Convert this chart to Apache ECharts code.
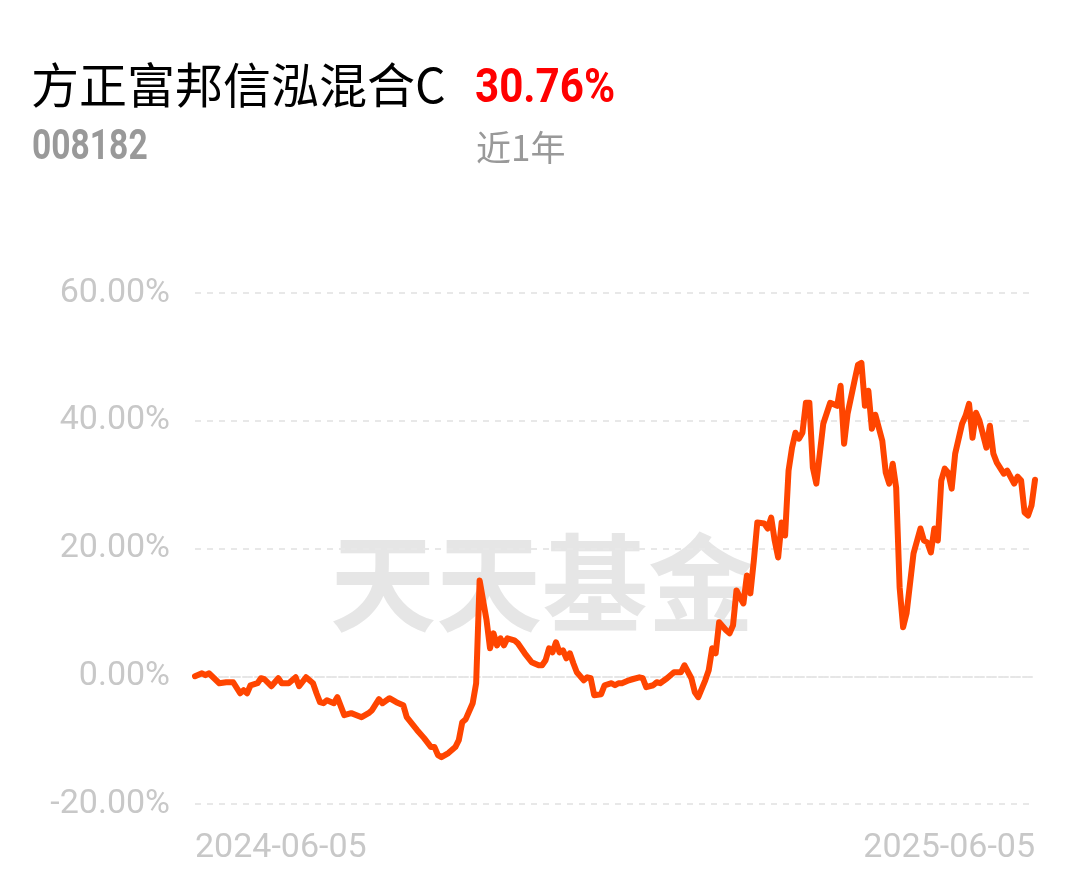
<!DOCTYPE html>
<html>
<head>
<meta charset="utf-8">
<script src="https://cdn.jsdelivr.net/npm/echarts@6/dist/echarts.min.js"></script>
<style>
html,body{margin:0;padding:0;background:#fff;}
#c{width:1080px;height:881px;}
</style>
</head>
<body>
<div id="c"></div>
<script>
// Trading-day index (0 = 2024-06-05, 242 = 2025-06-05) and cumulative return (%)
var days = [0,2,3,4,7,9,11,13,14,15,16,18,19,20,22,24,25,27,29,30,32,34,35,36,37,38,40,41,43,45,48,50,51,53,54,56,58,60,61,64,66,68,69,70,71,73,75,76,77,78,80,81,82,84,85,86,87,88,89,90,92,93,95,97,99,100,101,102,103,104,105,106,107,108,109,110,112,113,114,115,117,118,120,121,122,123,125,126,128,129,130,132,133,134,136,138,140,141,143,144,145,147,148,149,150,151,153,154,155,156,157,158,159,160,161,162,164,165,166,167,168,169,170,171,172,173,174,175,176,177,178,179,181,183,185,186,187,188,190,191,192,193,194,195,196,198,199,200,201,202,203,204,205,207,209,210,211,212,213,214,215,216,217,218,219,221,222,223,224,225,226,228,229,230,231,233,234,236,237,238,239,240,241,242];
var values = [0,0.47,0.16,0.47,-1.09,-0.94,-0.94,-2.66,-2.19,-2.66,-1.41,-1.09,-0.31,-0.47,-1.56,-0.31,-1.09,-1.09,-0.16,-1.56,-0.16,-1.09,-2.66,-4.06,-4.22,-3.75,-4.22,-3.28,-6.09,-5.78,-6.41,-5.78,-5.31,-3.59,-4.22,-3.44,-4.06,-4.53,-6.41,-8.44,-9.69,-11.09,-11.09,-12.34,-12.66,-12.03,-11.09,-10.0,-7.19,-6.72,-4.22,-1.09,15.0,8.75,4.38,6.72,4.84,5.94,4.84,5.94,5.63,5.16,3.59,2.19,1.72,1.72,2.5,4.38,3.75,5.31,3.75,4.06,2.81,3.59,2.03,0.63,-0.63,-0.16,-0.31,-2.97,-2.81,-1.41,-1.09,-1.41,-1.09,-1.09,-0.63,-0.47,-0.16,-0.31,-1.72,-1.41,-0.94,-1.09,-0.31,0.63,0.63,1.72,-0.31,-2.5,-3.28,-0.63,0.94,4.38,3.59,8.44,7.19,6.72,7.97,13.44,12.34,11.41,15.78,12.97,18.13,24.06,23.91,23.13,24.84,21.25,18.59,24.06,22.03,32.19,35.78,38.13,37.19,38.13,42.81,42.81,32.66,30.16,39.53,42.81,42.34,45.47,36.41,41.09,46.25,48.75,49.06,42.34,44.69,38.75,40.94,36.88,31.88,30.16,33.28,29.53,13.91,7.66,9.84,19.22,23.13,21.25,20.94,19.38,23.13,21.25,30.63,32.5,31.88,29.38,34.84,39.53,40.78,42.66,37.34,41.25,40.0,35.78,39.22,34.84,33.44,31.72,32.19,30.16,31.25,30.63,25.63,25.16,26.72,30.76];
var xTickLabels = ['2024-06-05','2025-06-05'];

var fundName = '方正富邦信泓混合C';
var fundCode = '008182';
var periodReturn = '30.76%';
var periodName = '近1年';

var seriesData = days.map(function(d, i){ return [d, values[i]]; });

var chart = echarts.init(document.getElementById('c'), null, {renderer:'canvas'});
var option = {
  backgroundColor: '#ffffff',
  animation: false,
  graphic: [
    {type:'text', x:31, y:61, z:10, style:{text:fundName, font:'normal 48px "Noto Sans CJK SC"', fill:'#000', textVerticalAlign:'top'}},
    {type:'text', x:32, y:127, z:10, scaleX:0.8, style:{text:fundCode, font:'bold 42px Roboto', fill:'#999', textVerticalAlign:'top'}},
    {type:'text', x:475, y:65, z:10, scaleX:0.86, style:{text:periodReturn, font:'bold 49px Roboto', fill:'#ff0000', textVerticalAlign:'top'}},
    {type:'text', x:476, y:130, z:10, style:{text:periodName, font:'normal 35px "Noto Sans CJK SC"', fill:'#999', textVerticalAlign:'top'}},
    {type:'text', x:330, y:530, z:0, style:{text:'天天基金', font:'bold 106px "Noto Sans CJK SC"', fill:'#e6e6e6', textVerticalAlign:'top'}}
  ],
  grid: {left:195, right:45, top:293, bottom:77, containLabel:false},
  xAxis: {
    type:'value', min:0, max:242, interval:242,
    axisLine:{show:true, lineStyle:{color:'#e6e6e6', width:2, type:[3,3]}},
    axisTick:{show:false},
    splitLine:{show:false},
    axisLabel:{
      show:true, margin:27, color:'#c8c8c8', fontSize:34,
      fontFamily:'Roboto',
      alignMinLabel:'left', alignMaxLabel:'right',
      formatter:function(v){ return v === 0 ? xTickLabels[0] : xTickLabels[1]; }
    }
  },
  yAxis: {
    type:'value', min:-20, max:60, interval:20,
    axisLine:{show:false}, axisTick:{show:false},
    splitLine:{show:true, lineStyle:{color:'#e8e8e8', width:2, type:[6,6]}},
    axisLabel:{
      margin:25, color:'#c8c8c8', fontSize:34,
      fontFamily:'Roboto',
      formatter:function(v){ return v.toFixed(2) + '%'; }
    }
  },
  series: [{
    type:'line', data: seriesData, showSymbol:false, smooth:false,
    lineStyle:{color:'#ff4500', width:6, join:'round', cap:'round'},
    z: 5
  }]
};
chart.setOption(option);
</script>
</body>
</html>
